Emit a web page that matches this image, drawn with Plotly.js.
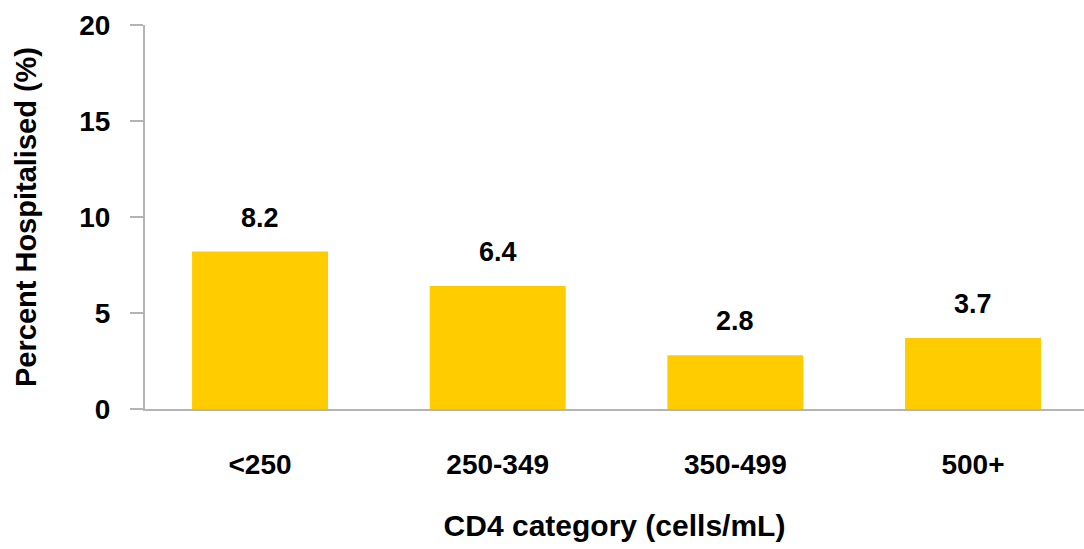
<!DOCTYPE html>
<html>
<head>
<meta charset="utf-8">
<script src="https://cdn.plot.ly/plotly-3.0.1.min.js"></script>
<style>html,body{margin:0;padding:0;background:#fff;}#chart{width:1084px;height:549px;}</style>
</head>
<body>
<div id="chart"></div>
<script>
const categories = ["<250", "250-349", "350-499", "500+"];
const percentHospitalised = [8.2, 6.4, 2.8, 3.7];
const yTickValues = [0, 5, 10, 15, 20];
const xTitle = "CD4 category (cells/mL)";
const yTitle = "Percent Hospitalised (%)";

const FONT = "'Liberation Sans', Arial, sans-serif";
const AXIS_GREY = "#b4b4b4";

const trace = {
  type: "bar",
  x: categories,
  y: percentHospitalised,
  marker: {color: "#FFCC00", line: {width: 0}},
  hoverinfo: "skip"
};

const annotations = categories.map((c, i) => ({
  x: c,
  y: percentHospitalised[i],
  xref: "x",
  yref: "y",
  text: percentHospitalised[i].toFixed(1),
  showarrow: false,
  yanchor: "bottom",
  yshift: 17,
  font: {family: FONT, size: 27, color: "#000", weight: "bold"}
}));

const layout = {
  width: 1084,
  height: 549,
  margin: {l: 145, r: 0, t: 25, b: 140},
  paper_bgcolor: "#fff",
  plot_bgcolor: "#fff",
  showlegend: false,
  bargap: 0.428,
  xaxis: {
    type: "category",
    range: [-0.484, 3.467],
    showline: true,
    linecolor: AXIS_GREY,
    linewidth: 2,
    showgrid: false,
    zeroline: false,
    ticks: "",
    ticklabelstandoff: 29,
    tickfont: {family: FONT, size: 28, color: "#000", weight: "bold"},
    title: {text: xTitle, standoff: 36, font: {family: FONT, size: 30, color: "#000", weight: "bold"}}
  },
  yaxis: {
    range: [0, 20],
    tickvals: yTickValues,
    ticktext: yTickValues.map(String),
    showline: true,
    linecolor: AXIS_GREY,
    linewidth: 2,
    showgrid: false,
    zeroline: false,
    ticks: "outside",
    ticklen: 13,
    tickwidth: 2,
    tickcolor: AXIS_GREY,
    ticklabelstandoff: 14,
    tickfont: {family: FONT, size: 28, color: "#000", weight: "bold"},
    title: {text: yTitle, standoff: 34, font: {family: FONT, size: 29, color: "#000", weight: "bold"}}
  },
  annotations: annotations
};

Plotly.newPlot("chart", [trace], layout, {displayModeBar: false, staticPlot: true});
</script>
</body>
</html>
